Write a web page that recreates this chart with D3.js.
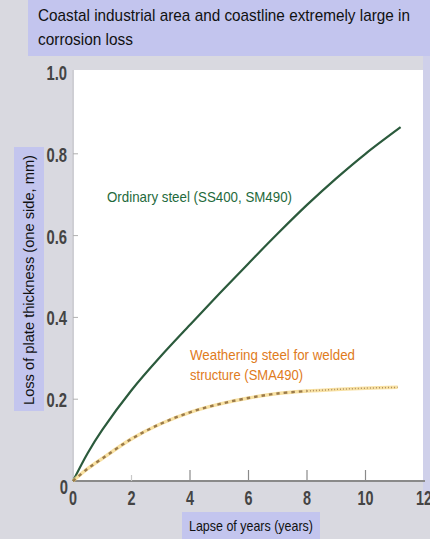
<!DOCTYPE html>
<html><head><meta charset="utf-8">
<script src="https://cdn.jsdelivr.net/npm/d3@7/dist/d3.min.js"></script>
<style>
html,body{margin:0;padding:0;background:#d9d9e0;}
svg{display:block;}
</style></head>
<body>
<script>
const titleLines = ["Coastal industrial area and coastline extremely large in", "corrosion loss"];
const yAxisLabel = "Loss of plate thickness (one side, mm)";
const xAxisLabel = "Lapse of years (years)";
const xTicks = [0, 2, 4, 6, 8, 10, 12];
const yTicks = [0, 0.2, 0.4, 0.6, 0.8, 1.0];
const yTickLabels = ["0", "0.2", "0.4", "0.6", "0.8", "1.0"];

const ordinaryName = "Ordinary steel (SS400, SM490)";
const ordinaryYears = [0, 0.5, 1, 2, 3, 4, 5, 6, 7, 8, 9, 10, 11.2];
const ordinaryLoss  = [0, 0.068, 0.125, 0.222, 0.305, 0.382, 0.458, 0.532, 0.605, 0.675, 0.74, 0.80, 0.865];

const weatherName = ["Weathering steel for welded", "structure (SMA490)"];
const weatherYears = [0, 0.5, 1, 2, 3, 4, 5, 6, 7, 8, 9, 10, 11.1];
const weatherLoss  = [0, 0.03, 0.055, 0.103, 0.14, 0.168, 0.188, 0.203, 0.214, 0.22, 0.224, 0.227, 0.229];
const weatherDashedUntil = 8;

const W = 430, H = 539;
const svg = d3.select("body").append("svg").attr("width", W).attr("height", H);

const x = d3.scaleLinear().domain([0, 12]).range([73, 424]);
const y = d3.scaleLinear().domain([0, 1]).range([481, 72]);

function condense(sel, factor) {
  sel.each(function () {
    const w = this.getComputedTextLength();
    d3.select(this).attr("textLength", w * factor).attr("lengthAdjust", "spacingAndGlyphs");
  });
}

svg.append("rect").attr("width", W).attr("height", H).attr("fill", "#d9d9e0");
svg.append("rect").attr("x", 28).attr("y", 0).attr("width", W - 28).attr("height", 56).attr("fill", "#c3c5ee");
svg.append("rect").attr("x", 423).attr("y", 56).attr("width", 7).attr("height", 440).attr("fill", "#cfd0ea");
svg.append("rect").attr("x", x(0) + 1).attr("y", y(1) - 2).attr("width", 423 - x(0) - 1).attr("height", y(0) - y(1) + 2).attr("fill", "#ffffff");
svg.append("rect").attr("x", 14).attr("y", 147).attr("width", 30).attr("height", 264).attr("fill", "#c3c5ee");
svg.append("rect").attr("x", 182).attr("y", 512).attr("width", 138).attr("height", 27).attr("fill", "#c3c5ee");

const fontMain = "'Liberation Sans',Arial,sans-serif";

const titleLens = [372, 95];
svg.selectAll("text.title").data(titleLines).enter().append("text")
  .attr("x", 38).attr("y", (d, i) => 21 + i * 24)
  .attr("font-family", fontMain).attr("font-size", 17).attr("fill", "#111")
  .attr("textLength", (d, i) => titleLens[i]).attr("lengthAdjust", "spacingAndGlyphs")
  .text(d => d);

svg.append("text")
  .attr("transform", `translate(34,${280}) rotate(-90)`)
  .attr("text-anchor", "middle")
  .attr("font-family", fontMain).attr("font-size", 14).attr("fill", "#111")
  .attr("textLength", 250).attr("lengthAdjust", "spacingAndGlyphs")
  .text(yAxisLabel);

svg.append("text")
  .attr("x", 251).attr("y", 531).attr("text-anchor", "middle")
  .attr("font-family", fontMain).attr("font-size", 15).attr("fill", "#111")
  .attr("textLength", 124).attr("lengthAdjust", "spacingAndGlyphs")
  .text(xAxisLabel);

svg.append("line").attr("x1", x(0)).attr("x2", 425).attr("y1", y(0)).attr("y2", y(0))
  .attr("stroke", "#8a8a8a").attr("stroke-width", 2);
svg.append("line").attr("x1", x(0)).attr("x2", x(0)).attr("y1", y(0)).attr("y2", y(1) - 2)
  .attr("stroke", "#c4c4c8").attr("stroke-width", 1);

svg.selectAll("line.xt").data(xTicks.filter(d => d > 0 && d < 12)).enter().append("line")
  .attr("x1", d => x(d)).attr("x2", d => x(d))
  .attr("y1", y(0)).attr("y2", d => y(0) - (d === 2 ? 6 : 11))
  .attr("stroke", d => d === 2 ? "#c8c8c8" : "#8a8a8a").attr("stroke-width", 1.2);

const xl = svg.selectAll("text.xl").data(xTicks).enter().append("text")
  .attr("x", d => x(d)).attr("y", 505).attr("text-anchor", "middle")
  .attr("font-family", fontMain).attr("font-weight", "bold").attr("font-size", 20).attr("fill", "#444")
  .text(d => d);
condense(xl, 0.72);

svg.selectAll("line.yt").data(yTicks.filter(d => d > 0 && d < 1)).enter().append("line")
  .attr("x1", x(0)).attr("x2", x(0) + 5)
  .attr("y1", d => y(d)).attr("y2", d => y(d))
  .attr("stroke", "#b0b0b0").attr("stroke-width", 1);

const yl = svg.selectAll("text.yl").data(yTicks).enter().append("text")
  .attr("x", (d, i) => i === 0 ? 68 : 67)
  .attr("y", (d, i) => i === 0 ? y(d) + 13 : y(d) + 8)
  .attr("text-anchor", "end")
  .attr("font-family", fontMain).attr("font-weight", "bold").attr("font-size", 20).attr("fill", "#444")
  .text((d, i) => yTickLabels[i]);
condense(yl, 0.74);

const ordData = ordinaryYears.map((t, i) => [t, ordinaryLoss[i]]);
const wData = weatherYears.map((t, i) => [t, weatherLoss[i]]);
const line = d3.line().x(d => x(d[0])).y(d => y(d[1])).curve(d3.curveCatmullRom.alpha(0.5));

svg.append("path").attr("d", line(ordData)).attr("fill", "none")
  .attr("stroke", "#2b5a3c").attr("stroke-width", 2.2);

const wDash = wData.filter(d => d[0] <= weatherDashedUntil);
const wDot = wData.filter(d => d[0] >= weatherDashedUntil);
svg.append("path").attr("d", line(wData)).attr("fill", "none")
  .attr("stroke", "#f6d98c").attr("stroke-width", 3.5).attr("stroke-opacity", 0.8);
svg.append("path").attr("d", line(wDash)).attr("fill", "none")
  .attr("stroke", "#9a7a4a").attr("stroke-width", 2.4).attr("stroke-dasharray", "3.5,4");
svg.append("path").attr("d", line(wDot)).attr("fill", "none")
  .attr("stroke", "#b09060").attr("stroke-width", 1.5).attr("stroke-dasharray", "1,2");

svg.append("text").attr("x", 107).attr("y", 202)
  .attr("font-family", fontMain).attr("font-size", 14.5).attr("fill", "#1f6a3c")
  .attr("textLength", 185).attr("lengthAdjust", "spacingAndGlyphs")
  .text(ordinaryName);
const wLens = [165, 113];
svg.selectAll("text.wl").data(weatherName).enter().append("text")
  .attr("x", 190).attr("y", (d, i) => 360 + i * 20)
  .attr("font-family", fontMain).attr("font-size", 14.5).attr("fill", "#e07b1c")
  .attr("textLength", (d, i) => wLens[i]).attr("lengthAdjust", "spacingAndGlyphs")
  .text(d => d);
</script>
</body></html>
